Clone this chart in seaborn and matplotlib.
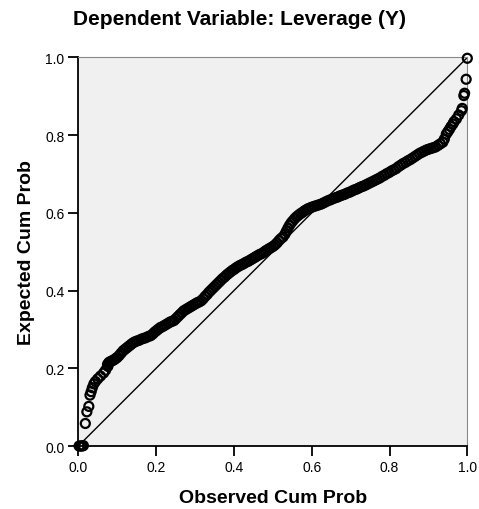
import matplotlib
matplotlib.use("Agg")
import matplotlib.pyplot as plt
import seaborn as sns
import pandas as pd

# Normal P-P plot of regression standardized residual
observed = [
    0.002, 0.006, 0.010, 0.013, 0.018, 0.022, 0.027, 0.030, 0.033, 0.036,
    0.040, 0.044, 0.050, 0.057, 0.065, 0.070, 0.075, 0.076, 0.078, 0.080,
    0.084, 0.088, 0.092, 0.096, 0.100, 0.105, 0.110, 0.115, 0.120, 0.125,
    0.130, 0.135, 0.140, 0.145, 0.150, 0.156, 0.162, 0.168, 0.174, 0.180,
    0.186, 0.191, 0.196, 0.201, 0.206, 0.211, 0.216, 0.221, 0.226, 0.231,
    0.236, 0.241, 0.246, 0.251, 0.256, 0.261, 0.266, 0.271, 0.276, 0.281,
    0.286, 0.291, 0.296, 0.301, 0.306, 0.311, 0.316, 0.321, 0.326, 0.331,
    0.336, 0.341, 0.346, 0.351, 0.356, 0.361, 0.366, 0.371, 0.376, 0.381,
    0.386, 0.391, 0.396, 0.401, 0.406, 0.411, 0.416, 0.421, 0.426, 0.431,
    0.436, 0.441, 0.446, 0.451, 0.456, 0.461, 0.466, 0.471, 0.476, 0.481,
    0.486, 0.491, 0.496, 0.501, 0.506, 0.511, 0.516, 0.521, 0.526, 0.531,
    0.535, 0.539, 0.543, 0.547, 0.551, 0.556, 0.561, 0.566, 0.571, 0.576,
    0.581, 0.586, 0.591, 0.596, 0.601, 0.607, 0.613, 0.619, 0.625, 0.631,
    0.637, 0.643, 0.649, 0.655, 0.661, 0.667, 0.673, 0.679, 0.685, 0.691,
    0.697, 0.703, 0.709, 0.715, 0.721, 0.727, 0.733, 0.739, 0.745, 0.751,
    0.757, 0.763, 0.769, 0.775, 0.781, 0.787, 0.793, 0.799, 0.805, 0.811,
    0.817, 0.823, 0.829, 0.835, 0.841, 0.847, 0.853, 0.859, 0.865, 0.871,
    0.877, 0.883, 0.889, 0.895, 0.901, 0.907, 0.913, 0.919, 0.925, 0.931,
    0.937, 0.941, 0.946, 0.950, 0.954, 0.958, 0.963, 0.966, 0.972, 0.978,
    0.985, 0.987, 0.991, 0.993, 0.997, 1.000,
]
expected = [
    0.000, 0.000, 0.000, 0.001, 0.058, 0.088, 0.102, 0.131, 0.140, 0.150,
    0.160, 0.166, 0.173, 0.180, 0.188, 0.195, 0.210, 0.205, 0.214, 0.216,
    0.218, 0.220, 0.222, 0.225, 0.228, 0.233, 0.239, 0.245, 0.249, 0.253,
    0.257, 0.261, 0.265, 0.268, 0.270, 0.272, 0.275, 0.277, 0.279, 0.282,
    0.284, 0.288, 0.293, 0.297, 0.301, 0.305, 0.307, 0.310, 0.313, 0.316,
    0.319, 0.321, 0.323, 0.328, 0.333, 0.338, 0.343, 0.348, 0.351, 0.354,
    0.357, 0.360, 0.363, 0.366, 0.369, 0.371, 0.374, 0.379, 0.385, 0.390,
    0.396, 0.401, 0.406, 0.411, 0.416, 0.421, 0.426, 0.431, 0.435, 0.440,
    0.444, 0.448, 0.452, 0.455, 0.459, 0.462, 0.465, 0.467, 0.470, 0.473,
    0.475, 0.478, 0.481, 0.484, 0.487, 0.490, 0.493, 0.495, 0.498, 0.502,
    0.505, 0.508, 0.511, 0.514, 0.518, 0.523, 0.529, 0.534, 0.538, 0.545,
    0.553, 0.561, 0.568, 0.574, 0.579, 0.585, 0.590, 0.594, 0.598, 0.601,
    0.605, 0.608, 0.611, 0.613, 0.615, 0.617, 0.619, 0.621, 0.623, 0.626,
    0.629, 0.632, 0.634, 0.637, 0.639, 0.641, 0.644, 0.646, 0.648, 0.651,
    0.653, 0.656, 0.659, 0.661, 0.664, 0.667, 0.669, 0.672, 0.675, 0.678,
    0.681, 0.684, 0.687, 0.690, 0.694, 0.697, 0.701, 0.704, 0.708, 0.711,
    0.714, 0.719, 0.723, 0.727, 0.730, 0.734, 0.737, 0.741, 0.745, 0.749,
    0.753, 0.756, 0.759, 0.762, 0.764, 0.766, 0.768, 0.770, 0.774, 0.778,
    0.782, 0.790, 0.803, 0.809, 0.815, 0.822, 0.829, 0.835, 0.842, 0.852,
    0.863, 0.869, 0.902, 0.908, 0.944, 0.998,
]
diag = [0.0, 1.0]
ticks = [0.0, 0.2, 0.4, 0.6, 0.8, 1.0]
tick_labels = ["0.0", "0.2", "0.4", "0.6", "0.8", "1.0"]

df = pd.DataFrame({"observed": observed, "expected": expected})

sns.set_style("white", {"axes.facecolor": "#F0F0F0"})
plt.rcParams["font.family"] = ["Liberation Sans", "DejaVu Sans"]
plt.rcParams["text.color"] = "black"
plt.rcParams["axes.labelcolor"] = "black"
plt.rcParams["xtick.color"] = "black"
plt.rcParams["ytick.color"] = "black"

fig = plt.figure(figsize=(4.79, 5.10), dpi=100)
ax = fig.add_axes([0.1635, 0.1235, 0.8121, 0.7618])

# reference line
sns.lineplot(x=diag, y=diag, ax=ax, color="black", linewidth=1.0)

sns.scatterplot(data=df, x="observed", y="expected", ax=ax,
                marker="o", s=42, facecolors="none", edgecolor="black",
                linewidth=1.6, clip_on=False, zorder=3)

ax.set_xlim(0, 1)
ax.set_ylim(0, 1)
ax.set_xticks(ticks)
ax.set_xticklabels(tick_labels)
ax.set_yticks(ticks)
ax.set_yticklabels(tick_labels)
ax.tick_params(axis="both", direction="out", length=7, width=1.3,
               color="black", labelcolor="black", labelsize=10, pad=3,
               bottom=True, left=True)

for side in ["left", "bottom"]:
    ax.spines[side].set_color("black")
    ax.spines[side].set_linewidth(1.3)
for side in ["top", "right"]:
    ax.spines[side].set_color("#888888")
    ax.spines[side].set_linewidth(0.8)

ax.set_xlabel("Observed Cum Prob", fontsize=14, fontweight="bold", labelpad=11)
ax.set_ylabel("Expected Cum Prob", fontsize=14, fontweight="bold", labelpad=7)
fig.text(0.501, 0.961, "Dependent Variable: Leverage (Y)", ha="center",
         va="center", fontsize=15, fontweight="bold")

fig.savefig("out.png", dpi=100)
